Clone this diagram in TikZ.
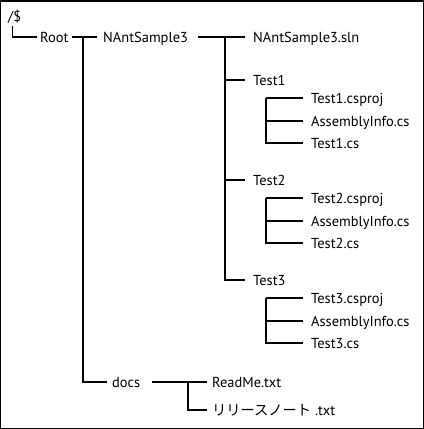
\documentclass[tikz,border=0pt]{standalone}
\usepackage{fontspec}
\setmainfont{PT Sans}
\newfontfamily\jpfont{Noto Sans CJK JP}
\begin{document}
\begin{tikzpicture}[x=1bp,y=-1bp,
  lbl/.style={anchor=base west,inner sep=0pt,font=\fontsize{14.5}{16}\selectfont},
  conn/.style={line width=1.1bp,black}]
\useasboundingbox (0,0) rectangle (424,429);
\draw[line width=1.5bp] (0.75,0.75) rectangle (423.25,428.25);
% labels (baseline = row + 5)
\node[lbl] (dollar) at (8,21) {/\$};
\node[lbl] (root) at (40,42) {Root};
\node[lbl] (nant) at (103,42) {NAntSample3};
\node[lbl] (sln) at (253,42) {NAntSample3.sln};
\node[lbl] (t1) at (253,85) {Test1};
\node[lbl] (t1a) at (311,103) {Test1.csproj};
\node[lbl] (t1b) at (311,126) {AssemblyInfo.cs};
\node[lbl] (t1c) at (311,148) {Test1.cs};
\node[lbl] (t2) at (253,185) {Test2};
\node[lbl] (t2a) at (311,203) {Test2.csproj};
\node[lbl] (t2b) at (311,226) {AssemblyInfo.cs};
\node[lbl] (t2c) at (311,248) {Test2.cs};
\node[lbl] (t3) at (253,285) {Test3};
\node[lbl] (t3a) at (311,303) {Test3.csproj};
\node[lbl] (t3b) at (311,326) {AssemblyInfo.cs};
\node[lbl] (t3c) at (311,348) {Test3.cs};
\node[lbl] (docs) at (112,387) {docs};
\node[lbl] (readme) at (212,387) {ReadMe.txt};
\node[lbl] (notes) at (212,415) {{\jpfont\fontsize{14.3}{16}\selectfont リリースノート} .txt};
% connector coordinates
\coordinate (a0) at (12.5,26);
\coordinate (a1) at (37,37);
\coordinate (b0) at (72,37);
\coordinate (b1) at (97,37);
\coordinate (bv) at (83,37);
\coordinate (bd) at (107,382);
\coordinate (c0) at (198,37);
\coordinate (c1) at (245,37);
\coordinate (cv) at (225,37);
\coordinate (ct1) at (245,80);
\coordinate (ct2) at (245,180);
\coordinate (ct3) at (245,280);
\coordinate (d1a) at (303,98);  \coordinate (d1b) at (303,121); \coordinate (d1c) at (303,143);
\coordinate (d2a) at (303,198); \coordinate (d2b) at (303,221); \coordinate (d2c) at (303,243);
\coordinate (d3a) at (303,298); \coordinate (d3b) at (303,321); \coordinate (d3c) at (303,343);
\coordinate (e0) at (152,382);
\coordinate (e1) at (207,382);
\coordinate (ev) at (188,382);
\coordinate (e2) at (207,410);
% connectors
\draw[conn] (a0) |- (a1);
\draw[conn] (b0) -- (b1);
\draw[conn] (bv) |- (bd);
\draw[conn] (c0) -- (c1);
\draw[conn] (cv) |- (ct3);
\draw[conn] (cv |- ct1) -- (ct1);
\draw[conn] (cv |- ct2) -- (ct2);
\foreach \g in {1,2,3}{
  \draw[conn] (266,0 |- d\g a) |- (d\g c);
  \draw[conn] (266,0 |- d\g a) -- (d\g a);
  \draw[conn] (266,0 |- d\g b) -- (d\g b);
}
\draw[conn] (e0) -- (e1);
\draw[conn] (ev) |- (e2);
\end{tikzpicture}
\end{document}
